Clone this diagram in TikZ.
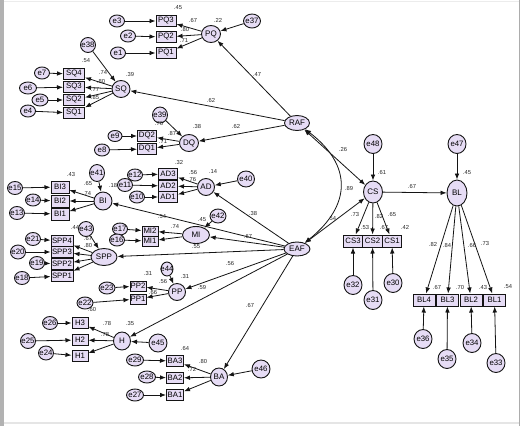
\documentclass[tikz,border=0pt]{standalone}
\usepackage{fontspec}
\setmainfont{Liberation Sans}
\usetikzlibrary{shapes.geometric,arrows.meta}
\definecolor{nodefill}{RGB}{230,220,245}
\definecolor{edgec}{RGB}{20,20,20}
\newcommand{\Zb}[1]{\makebox[0pt]{#1}}
\tikzset{
  sz/.style 2 args={minimum width=#1pt,minimum height=#2pt},
  lat/.style={ellipse,draw=edgec,line width=0.9pt,fill=nodefill,inner sep=0pt,font=\fontsize{8}{9}\selectfont},
  err/.style={ellipse,draw=edgec,line width=0.9pt,fill=nodefill,inner sep=0pt,font=\fontsize{7.8}{9}\selectfont},
  ind/.style={rectangle,draw=edgec,line width=1pt,fill=nodefill,inner sep=0pt,font=\fontsize{7.8}{9}\selectfont},
  arr/.style={-{Latex[length=6pt,width=4.6pt]},line width=0.8pt,draw=edgec},
  darr/.style={{Latex[length=6pt,width=4.6pt]}-{Latex[length=6pt,width=4.6pt]},line width=0.8pt,draw=edgec},
  lbl/.style={inner sep=0pt,font=\fontsize{5.8}{6}\selectfont,text=black!85}
}
\begin{document}
\begin{tikzpicture}[x=1pt,y=-1pt]
\useasboundingbox (0,0) rectangle (521,426);
\fill[white] (0,0) rectangle (521,426);
\fill[gray!60] (0,0) rectangle (4,426);
\fill[gray!65] (518.8,0) rectangle (520.2,426);
\fill[gray!20] (4,422) rectangle (518.8,423.5);
\fill[gray!15] (4,0.5) rectangle (518.8,1.5);

% latent variables
\node[lat,sz={19}{17}] (PQ) at (211,34) {\Zb{PQ}};
\node[lat,sz={18}{17}] (SQ) at (121,89) {\Zb{SQ}};
\node[lat,sz={19}{17}] (DQ) at (189,143) {\Zb{DQ}};
\node[lat,sz={25}{15}] (RAF) at (297,123) {\Zb{RAF}};
\node[lat,sz={18}{18}] (BI) at (103,201) {\Zb{BI}};
\node[lat,sz={17}{17}] (AD) at (206,187) {\Zb{AD}};
\node[lat,sz={27}{17}] (MI) at (196,235) {\Zb{MI}};
\node[lat,sz={26}{14}] (EAF) at (297,249) {\Zb{EAF}};
\node[lat,sz={26}{17}] (SPP) at (104,257) {\Zb{SPP}};
\node[lat,sz={17}{17}] (PP) at (177,292) {\Zb{PP}};
\node[lat,sz={17}{18}] (H) at (122,341) {\Zb{H}};
\node[lat,sz={17}{18}] (BA) at (219,377) {\Zb{BA}};
\node[lat,sz={19}{22}] (CS) at (373,192) {\Zb{CS}};
\node[lat,sz={20}{26}] (BL) at (457,193) {\Zb{BL}};

% observed indicators
\foreach \n/\x/\y/\w/\h in {PQ3/166/21/20/11,PQ2/166/37/20/11,PQ1/166/53/20/11,
  SQ4/74/74/21/11,SQ3/74/87/21/11,SQ2/74/100/21/11,SQ1/74/113/21/11,
  DQ2/147/136/19/11,DQ1/147/149/19/11,
  BI3/60/187/18/12,BI2/60/201/18/12,BI1/60/214/18/12,
  AD3/168/174/19/11,AD2/168/186/19/11,AD1/168/197/19/11,
  MI2/150/231/16/10,MI1/150/241/16/10,
  SPP4/62/241/22/11,SPP3/62/252/22/11,SPP2/62/264/22/11,SPP1/62/276/22/11,
  PP2/138/286/16/10,PP1/138/299/16/10,
  H3/80/323/16/11,H2/80/340/16/11,H1/80/356/16/11,
  BA3/175/361/17/11,BA2/175/378/17/11,BA1/175/395/17/11,
  CS3/353/241/19.5/12,CS2/372.5/241/19.5/12,CS1/392/241/19.5/12,
  BL4/424/300/22/12,BL3/447.5/300/22/12,BL2/471/300/22/12,BL1/494.5/300/22/12}
  \node[ind,sz={\w}{\h}] (\n) at (\x,\y) {\Zb{\n}};

% error terms
\foreach \n/\x/\y/\w/\h in {e3/117/21/15/12,e2/128/36/15/12,e1/118/53/15/12,e37/252/21/17/14,
  e38/88/45/15/15,e7/42/73/15/12,e6/28/88/17/12,e5/40/100/16/12,e4/28/111/15/12,
  e39/160/115/15/16,e9/115/136/14/11,e8/102/150/15/12,
  e41/97/173/15/17,e15/15/188/15/13,e14/33/200/15/12,e13/17/213/15/13,
  e40/246/179/17/16,e11/125/185/15/13,e12/135/175/15/12,e10/137/197/15/12,
  e42/218/216/16/14,e17/120/229/15/12,e16/117/240/15/12,
  e43/86/229/15/15,e21/33/239/15/13,e20/18/252/15/14,e19/37/263/15/13,e18/22/278/15/13,
  e44/167/269/12/14,e23/107/288/16/12,e22/85/303/16/12,
  e45/158/343/18/18,e26/50/323/15/13,e25/28/341/15/15,e24/46/353/15/14,
  e46/261/369/18/18,e29/135/360/17/12,e28/147/377/17/12,e27/135/395/17/12,
  e48/373/144/18/19,e32/353/285/18/19,e31/373/300/18/19,e30/393/283/18/19,
  e47/457/144/18/19,e36/423/339/18/19,e35/447/359/18/19,e34/472/343/18/19,e33/496/363/18/19}
  \node[err,sz={\w}{\h}] (\n) at (\x,\y) {\Zb{\n}};

% structural paths
\foreach \a/\b in {RAF/PQ,RAF/SQ,RAF/DQ,EAF/AD,EAF/BI,EAF/MI,EAF/SPP,EAF/PP,EAF/H,EAF/BA,CS/BL}
  \draw[arr] (\a) -- (\b);
\draw[darr] (RAF) -- (CS);
\draw[darr] (EAF) -- (CS);
\draw[darr] (RAF) .. controls (352,165) and (352,205) .. (EAF);

% measurement loadings
\foreach \a/\b in {PQ/PQ3,PQ/PQ2,PQ/PQ1,SQ/SQ4,SQ/SQ3,SQ/SQ2,SQ/SQ1,DQ/DQ2,DQ/DQ1,
  BI/BI3,BI/BI2,BI/BI1,AD/AD3,AD/AD2,AD/AD1,MI/MI2,MI/MI1,
  SPP/SPP4,SPP/SPP3,SPP/SPP2,SPP/SPP1,PP/PP2,PP/PP1,H/H3,H/H2,H/H1,
  BA/BA3,BA/BA2,BA/BA1,CS/CS3,CS/CS2,CS/CS1,BL/BL4,BL/BL3,BL/BL2,BL/BL1}
  \draw[arr] (\a) -- (\b);

% error arrows
\foreach \a/\b in {e37/PQ,e38/SQ,e39/DQ,e41/BI,e40/AD,e42/MI,e43/SPP,e44/PP,e45/H,e46/BA,e48/CS,e47/BL,
  e3/PQ3,e2/PQ2,e1/PQ1,e7/SQ4,e6/SQ3,e5/SQ2,e4/SQ1,e9/DQ2,e8/DQ1,
  e15/BI3,e14/BI2,e13/BI1,e12/AD3,e11/AD2,e10/AD1,e17/MI2,e16/MI1,
  e21/SPP4,e20/SPP3,e19/SPP2,e18/SPP1,e23/PP2,e22/PP1,e26/H3,e25/H2,e24/H1,
  e29/BA3,e28/BA2,e27/BA1,e32/CS3,e31/CS2,e30/CS1,e36/BL4,e35/BL3,e34/BL2,e33/BL1}
  \draw[arr] (\a) -- (\b);

% coefficient labels
\foreach \t/\x/\y [count=\i] in {.45/178/8,.67/193/21,.80/185/30,.71/184/41,.22/218/20,.47/257/75,
  .54/86/61,.39/130/74,.74/103/73,.80/101/81,.77/95/90,.85/95/97,.62/211/100,
  .76/159/123,.38/197/126,.87/172/133,.71/163/142,.62/236/126,
  .32/179/162,.56/193/172,.76/192/179,.18/113/185,.14/213/171,.38/253/213,
  .43/71/174,.65/88/183,.74/87/193,.54/162/217,
  .74/175/226,.45/202/220,.67/248/236,.55/196/247,
  .44/75/227,.67/88/238,.80/88/245,
  .31/148/273,.31/185/276,.56/163/281,.66/153/292,.56/230/263,.59/202/287,
  .60/92/309,.78/107/323,.35/130/323,.78/105/334,
  .64/185/348,.80/203/361,.72/192/369,.67/250/305,
  .26/343/149,.89/349/188,.54/332/219,.73/355/214,.53/365/227,.82/379/216,.67/384/227,.65/392/214,.42/405/227,.61/382/172,.67/412/186,
  .45/467/173,.82/433/244,.84/447/245,.66/472/245,.73/485/243,.67/437/287,.70/460/287,.43/483/287,.54/508/287}
  \node[lbl] (lab\i) at (\x,\y) {\t};
\end{tikzpicture}
\end{document}
